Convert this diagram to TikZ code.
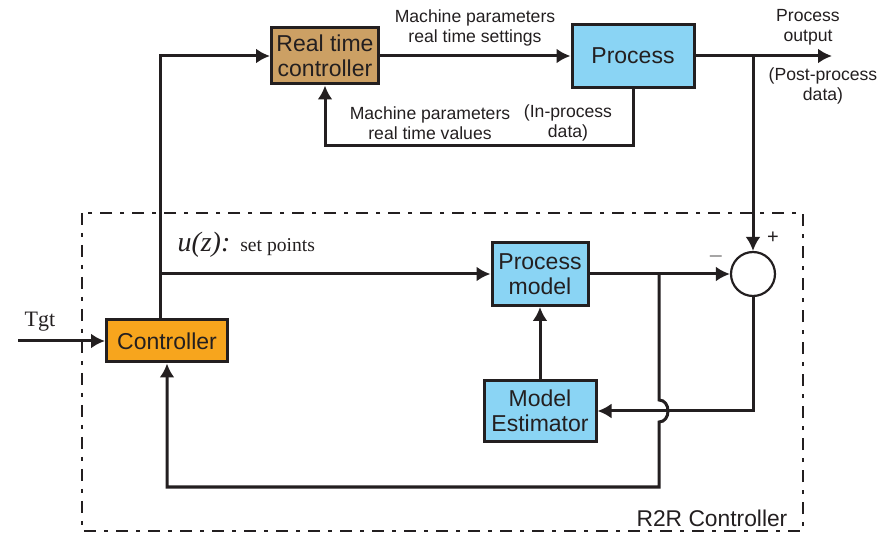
\documentclass[tikz,border=0pt]{standalone}
\usepackage{fontspec}
\setmainfont{Liberation Sans}
\newfontfamily\serifx{Liberation Serif}
\usetikzlibrary{arrows.meta}

\definecolor{rtcbrown}{RGB}{204,160,100}
\definecolor{procblue}{RGB}{138,212,244}
\definecolor{ctrlorange}{RGB}{247,165,29}
\definecolor{ink}{RGB}{35,31,32}

\begin{document}
\begin{tikzpicture}
            [x=0.5pt,y=-0.5pt,line width=1.5pt,color=ink,
             block/.style={draw=ink,line width=1.5pt,align=center,inner sep=0pt,
                           font=\fontsize{11.5}{12.5}\selectfont},
             lbl/.style={align=center,inner sep=0pt,font=\fontsize{8.8}{10}\selectfont},
             arr/.style={-{Latex[length=7pt,width=7.5pt]}},
             dashdot/.style={line width=1.3pt,dash pattern=on 6pt off 4pt on 2pt off 4pt}]
            \useasboundingbox (0,0) rectangle (880,535);

            % blocks
            \node[block,fill=rtcbrown,minimum width=53.5pt,minimum height=28pt] (rtc) at (325,56) {Real time\\controller};
            \node[block,fill=procblue,minimum width=61pt,minimum height=31.5pt] (proc) at (633,56) {Process};
            \node[block,fill=ctrlorange,minimum width=60.5pt,minimum height=21pt] (ctrl) at (167,341) {Controller};
            \node[block,fill=procblue,minimum width=48pt,minimum height=31.5pt] (pm) at (540,274) {Process\\model};
            \node[block,fill=procblue,minimum width=56pt,minimum height=30.5pt] (me) at (540,411) {Model\\Estimator};
            \node[draw=ink,circle,line width=1.1pt,minimum size=22pt,inner sep=0pt] (sum) at (753,274) {};

            % points
            \coordinate (tl) at (160,56);
            \coordinate (sp) at (160,274);
            \coordinate (out) at (832,56);
            \coordinate (br) at (753,56);
            \coordinate (fb) at (325,146);
            \coordinate (mb) at (659,274);
            \coordinate (hopA) at (659,400);
            \coordinate (hopB) at (659,422);
            \coordinate (lb) at (659,487);
            \coordinate (tin) at (18,341);

            % labels
            \node[lbl] (settxt) at (475,28) {Machine parameters\\real time settings};
            \node[lbl] (valtxt) at (430,123) {Machine parameters\\real time values};
            \node[lbl] (intxt) at (568,123) {(In-process\\data)};
            \node[lbl] (outtxt) at (808,27) {Process\\output};
            \node[lbl] (posttxt) at (823,86) {(Post-process\\data)};
            \node[lbl,font=\fontsize{10}{12}\selectfont] (plus) at (773,238) {+};
            \node[lbl,font=\fontsize{10}{12}\selectfont] (minus) at (716,257) {$-$};
            \node[anchor=west,inner sep=0pt] (uz) at (176,245) {\serifx{\fontsize{14}{16}\selectfont\itshape u(z):}~~{\fontsize{9.8}{12}\selectfont set points}};
            \node[inner sep=0pt,font=\serifx\fontsize{11}{13}\selectfont] (tgt) at (40,322) {Tgt};
            \node[inner sep=0pt,font=\fontsize{11.4}{13}\selectfont] (r2r) at (712,518) {R2R Controller};

            % R2R frame
            \draw[dashdot] (82,213) rectangle (803,531);

            % real time loop
            \draw[arr] (ctrl.north -| tl) -- (tl) -- (rtc.west);
            \draw[arr] (rtc) -- (proc);
            \draw[arr] (proc.east) -- (out);
            \draw[arr] (proc.south) |- (fb) -- (rtc.south);
            \draw[arr] (br) -- (sum.north);

            % run to run loop
            \draw[arr] (tin) -- (ctrl.west);
            \draw[arr] (sp) -- (pm.west);
            \draw[arr] (pm.east) -- (sum.west);
            \draw[arr] (sum.south) |- (me.east);
            \draw[arr] (me.north) -- (pm.south);
            \draw[arr] (mb) -- (hopA) .. controls +(12,0) and +(12,0) .. (hopB) -- (lb) -| (ctrl.south);
        \end{tikzpicture}
\end{document}
